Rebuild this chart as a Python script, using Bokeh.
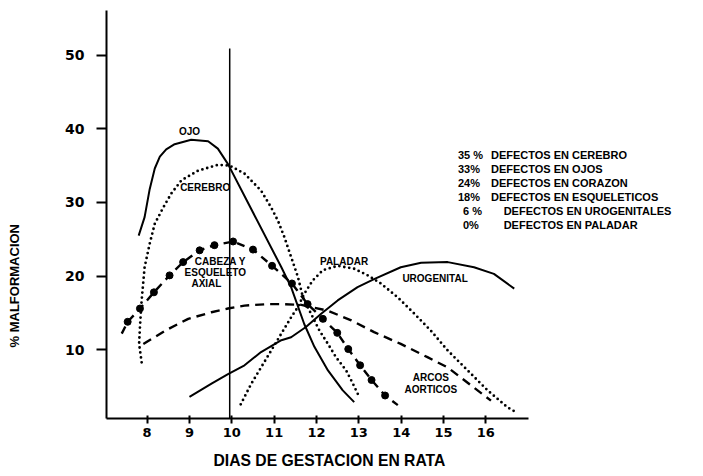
from bokeh.plotting import figure
from bokeh.models import Range1d, FixedTicker, Label, ColumnDataSource, Title, LinearAxis
from bokeh.core.properties import value
from bokeh.embed import file_html
from bokeh.resources import INLINE

# ---------------- data ----------------
x_ticks = [8, 9, 10, 11, 12, 13, 14, 15, 16]
y_ticks = [10, 20, 30, 40, 50]

ojo_x = [7.80, 7.94, 8.06, 8.18, 8.30, 8.45, 8.65, 9.04, 9.44, 9.67, 9.91, 11.17, 11.40, 11.71, 11.95, 12.27, 12.62, 12.89]
ojo_y = [25.5, 28.0, 31.8, 34.6, 36.2, 37.2, 37.9, 38.5, 38.3, 37.3, 35.2, 21.2, 18.5, 13.5, 10.4, 7.2, 4.5, 2.9]

cerebro_x = [7.87, 7.81, 7.83, 7.87, 7.94, 8.06, 8.18, 8.38, 8.57, 8.81, 9.20, 9.67, 9.95, 10.30, 10.69,
             10.93, 11.09, 11.24, 11.40, 11.56, 11.68, 11.87, 12.07, 12.27, 12.46, 12.70, 12.86, 13.01]
cerebro_y = [8.3, 10.8, 13.1, 16.7, 21.2, 24.4, 27.1, 29.3, 31.2, 33.0, 34.3, 35.1, 35.0, 33.9, 31.6,
             29.3, 27.5, 25.3, 22.6, 19.9, 17.1, 14.9, 12.6, 10.8, 9.0, 7.2, 5.4, 3.6]

cabeza_x = [7.40, 7.54, 7.83, 8.16, 8.53, 8.85, 9.24, 9.59, 10.03, 10.50, 10.95, 11.42, 11.79, 12.15,
            12.49, 12.75, 13.03, 13.30, 13.62, 13.92]
cabeza_y = [12.2, 13.8, 15.6, 17.8, 20.1, 21.9, 23.5, 24.2, 24.7, 23.6, 21.4, 19.0, 16.2, 14.2,
            12.3, 10.1, 7.9, 5.9, 3.8, 2.5]

arcos_x = [7.91, 8.49, 8.97, 9.52, 9.91, 10.30, 10.85, 11.17, 11.64, 12.27, 12.82, 13.36, 13.99,
           14.62, 15.10, 15.60, 16.12]
arcos_y = [10.8, 12.8, 14.2, 15.1, 15.6, 16.0, 16.2, 16.2, 16.1, 15.3, 14.0, 12.4, 10.8,
           9.0, 7.6, 5.4, 3.1]

uro_x = [9.00, 9.52, 9.91, 10.30, 10.69, 11.17, 11.40, 11.75, 12.11, 12.50, 12.97, 13.36, 13.99,
         14.47, 15.10, 15.72, 16.19, 16.67]
uro_y = [3.6, 5.4, 6.7, 7.9, 9.7, 11.3, 11.7, 13.1, 14.9, 16.7, 18.5, 19.6, 21.2,
         21.8, 21.9, 21.2, 20.3, 18.3]

paladar_x = [10.21, 10.46, 10.69, 10.93, 11.17, 11.40, 11.56, 11.71, 11.91, 12.15, 12.50, 12.89,
             13.21, 13.52, 13.92, 14.31, 14.70, 15.10, 15.57, 16.04, 16.51, 16.75]
paladar_y = [2.6, 5.4, 7.6, 9.9, 12.2, 14.4, 15.8, 17.6, 19.4, 20.8, 21.4, 21.0,
             20.1, 19.0, 17.1, 14.9, 12.6, 9.9, 7.2, 4.5, 2.2, 1.4]

day10_x = 9.95
day10_top = 50.9

legend_pct = ["35 %", "33%", "24%", "18%", "6 %", "0%"]
legend_text = ["DEFECTOS EN CEREBRO", "DEFECTOS EN OJOS", "DEFECTOS EN CORAZON",
               "DEFECTOS EN ESQUELETICOS", "DEFECTOS EN UROGENITALES", "DEFECTOS EN PALADAR"]

curve_labels = ["OJO", "CEREBRO", "CABEZA Y", "ESQUELETO", "AXIAL", "PALADAR", "UROGENITAL", "ARCOS", "AORTICOS"]
curve_label_x = [9.00, 9.37, 9.73, 9.61, 9.40, 12.65, 14.80, 14.70, 14.70]
curve_label_y = [39.6, 32.0, 22.0, 20.5, 19.0, 22.0, 19.7, 6.2, 4.6]

x_title = "DIAS DE GESTACION EN RATA"
y_title = "% MALFORMACION"

# ---------------- figure ----------------
X0, X1 = 7.04, 21.14
Y0, Y1 = 0.68, 56.04
p = figure(width=703, height=476, x_range=Range1d(X0, X1), y_range=Range1d(Y0, Y1),
           output_backend="svg", toolbar_location=None,
           min_border_left=105, min_border_right=0, min_border_top=10, min_border_bottom=58)
p.outline_line_color = None
p.grid.visible = False
p.background_fill_color = "white"
p.border_fill_color = "white"

for ax in (p.xaxis[0], p.yaxis[0]):
    ax.axis_line_width = 2
    ax.axis_line_color = "black"
    ax.major_tick_line_width = 2
    ax.major_tick_line_color = "black"
    ax.minor_tick_line_color = None
    ax.major_label_text_font = "DejaVu Sans"
    ax.major_label_text_font_style = "bold"
    ax.major_label_text_color = "black"

p.xaxis.bounds = (X0, 17.0)
p.xaxis.ticker = FixedTicker(ticks=x_ticks)
p.xaxis.major_tick_in = 3
p.xaxis.major_tick_out = 5
p.xaxis.major_label_standoff = 4
p.xaxis.major_label_text_font_size = "13px"

p.yaxis.bounds = (Y0, Y1)
p.yaxis.ticker = FixedTicker(ticks=y_ticks)
p.yaxis.major_tick_in = 0
p.yaxis.major_tick_out = 10
p.yaxis.major_label_standoff = 12
p.yaxis.major_label_text_font_size = "14px"

# vertical reference line at day 10
p.line([day10_x, day10_x], [Y0, day10_top], line_color="black", line_width=1.5)

# curves
p.line(ojo_x, ojo_y, line_color="black", line_width=2)
p.line(uro_x, uro_y, line_color="black", line_width=2)
p.line(cerebro_x, cerebro_y, line_color="black", line_width=2.8, line_dash="0 5", line_cap="round")
p.line(paladar_x, paladar_y, line_color="black", line_width=2.8, line_dash="0 5", line_cap="round")
p.line(arcos_x, arcos_y, line_color="black", line_width=2.4, line_dash="9 6")
p.line(cabeza_x, cabeza_y, line_color="black", line_width=2.4, line_dash="8 6")
p.scatter(cabeza_x[1:-1], cabeza_y[1:-1], marker="circle", size=7, fill_color="black", line_color="black")

# curve labels
for t, lx, ly in zip(curve_labels, curve_label_x, curve_label_y):
    p.add_layout(Label(x=lx, y=ly, text=t, text_align="center", text_baseline="middle",
                       text_font="Liberation Sans", text_font_style="bold", text_font_size="10px",
                       text_color="black"))

# legend block (percent column + description column)
top_y, step = 36.5, 1.9
rows = list(range(len(legend_pct)))
src = ColumnDataSource(dict(
    pct=legend_pct, txt=legend_text,
    px=[15.34 if i < 4 else 15.46 for i in rows],
    tx=[16.12 if i < 4 else 16.42 for i in rows],
    y=[top_y - i * step for i in rows],
))
p.text(x="px", y="y", text="pct", source=src, text_font=value("Liberation Sans"),
       text_font_style="bold", text_font_size="11px", text_baseline="middle", text_color="black")
p.text(x="tx", y="y", text="txt", source=src, text_font=value("Liberation Sans"),
       text_font_style="bold", text_font_size="11px", text_baseline="middle", text_color="black")


def spacer_axis(tick, size):
    """Invisible axis used only to reserve room between an axis and its title."""
    return LinearAxis(ticker=FixedTicker(ticks=[tick]), major_label_overrides={tick: ""},
                      axis_line_color=None, major_tick_line_color=None, minor_tick_line_color=None,
                      major_tick_out=size, major_tick_in=0, minor_tick_out=0, minor_tick_in=0,
                      major_label_standoff=0, major_label_text_color=None,
                      major_label_text_font_size="1px")


p.add_layout(spacer_axis(30, 32), "left")
p.add_layout(spacer_axis(12, 10), "below")

# axis titles as side panels
p.add_layout(Title(text=x_title, align="left", offset=107, standoff=0,
                   text_font="Liberation Sans", text_font_style="bold", text_font_size="15.7px",
                   text_color="black"), "below")
p.add_layout(Title(text=y_title, align="left", offset=71, standoff=13, vertical_align="top",
                   text_font="Liberation Sans", text_font_style="bold", text_font_size="13px",
                   text_color="black"), "left")

open("out.html", "w").write(file_html(p, INLINE))
